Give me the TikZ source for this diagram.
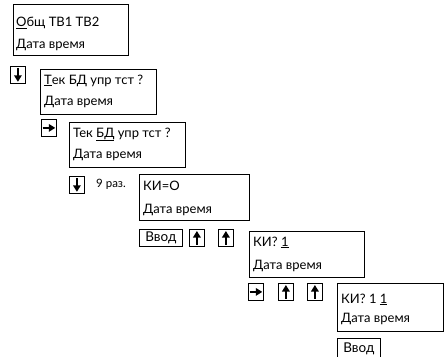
\documentclass[tikz,border=0pt]{standalone}
\usepackage{fontspec}
\setmainfont{Lato}
\usetikzlibrary{arrows.meta}
\begin{document}
\begin{tikzpicture}[x=1pt,y=-1pt,
  screen/.style={draw, line width=0.8pt, anchor=north west, inner sep=0pt},
  txt/.style={anchor=base west, inner sep=0pt, font=\fontsize{13}{15}\selectfont},
  small/.style={anchor=base west, inner sep=0pt, font=\fontsize{11.5}{13}\selectfont},
  keybox/.style={draw, line width=0.8pt, anchor=north west, minimum width=15pt, minimum height=17pt, inner sep=0pt},
  enterkey/.style={draw, line width=0.8pt, anchor=north west, minimum width=43pt, minimum height=17pt, inner sep=0pt, font=\fontsize{13.5}{15}\selectfont},
  icon/.style={line width=1.6pt, -{Triangle[width=7.5pt,length=6.5pt]}}
]
\useasboundingbox (0,0) rectangle (444,356);
\clip (0,0) rectangle (444,356);

% screen 1
\node[screen, minimum width=115pt, minimum height=51pt] (s1) at (13,4) {};
\node[txt] (s1a) at (16,27) {\underline{О}бщ ТВ1 ТВ2};
\node[txt] (s1b) at (16,48) {Дата время};

% key down 1
\node[keybox] (k1) at (10,66) {};
\draw[icon] ([yshift=-2pt]k1.north) -- ([yshift=2pt]k1.south);

% screen 2
\node[screen, minimum width=116pt, minimum height=45pt] (s2) at (40,69) {};
\node[txt] (s2a) at (44,84) {\underline{Т}ек БД упр тст ?};
\node[txt] (s2b) at (44,105) {Дата время};

% key right
\node[keybox] (k2) at (41,119) {};
\draw[icon] ([xshift=1.5pt]k2.west) -- ([xshift=-1.5pt]k2.east);

% screen 3
\node[screen, minimum width=116pt, minimum height=45pt] (s3) at (69,122) {};
\node[txt] (s3a) at (73,137) {Тек \underline{БД} упр тст ?};
\node[txt] (s3b) at (73,158) {Дата время};

% key down 2
\node[keybox] (k3) at (69,176) {};
\draw[icon] ([yshift=-2pt]k3.north) -- ([yshift=2pt]k3.south);
\node[small] (n9) at (96,187) {9 раз.};

% screen 4
\node[screen, minimum width=110pt, minimum height=46pt] (s4) at (139,174) {};
\node[txt] (s4a) at (143,190) {КИ=О};
\node[txt] (s4b) at (143,213) {Дата время};

% row 1 keys
\node[enterkey] (e1) at (139,229) {Ввод};
\node[keybox] (u1) at (189,229) {};
\draw[icon] ([yshift=2pt]u1.south) -- ([yshift=-2pt]u1.north);
\node[keybox] (u2) at (218,229) {};
\draw[icon] ([yshift=2pt]u2.south) -- ([yshift=-2pt]u2.north);

% screen 5
\node[screen, minimum width=115pt, minimum height=46pt] (s5) at (249,231) {};
\node[txt] (s5a) at (253,246) {КИ? \underline{1}};
\node[txt] (s5b) at (253,269) {Дата время};

% row 2 keys
\node[keybox] (r2) at (248,283) {};
\draw[icon] ([xshift=1.5pt]r2.west) -- ([xshift=-1.5pt]r2.east);
\node[keybox] (u3) at (278,283) {};
\draw[icon] ([yshift=2pt]u3.south) -- ([yshift=-2pt]u3.north);
\node[keybox] (u4) at (307,283) {};
\draw[icon] ([yshift=2pt]u4.south) -- ([yshift=-2pt]u4.north);

% screen 6
\node[screen, minimum width=106pt, minimum height=48pt] (s6) at (337,283) {};
\node[txt] (s6a) at (341,303) {КИ? 1 \underline{1}};
\node[txt] (s6b) at (341,322) {Дата время};

% enter key 2 (cut by the lower edge)
\node[enterkey, minimum height=21pt] (e2) at (337,338) {\raisebox{2pt}{Ввод}};
\end{tikzpicture}
\end{document}
